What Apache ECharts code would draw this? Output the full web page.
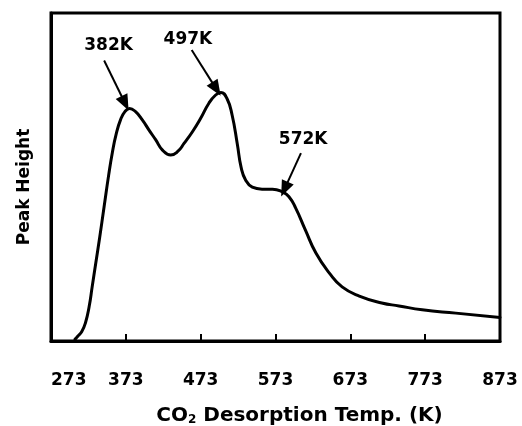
<!DOCTYPE html>
<html>
<head>
<meta charset="utf-8">
<script src="https://cdn.jsdelivr.net/npm/echarts@6/dist/echarts.min.js"></script>
<style>
  html, body { margin: 0; padding: 0; background: #fff; }
  #chart { width: 522px; height: 426px; }
</style>
</head>
<body>
<div id="chart"></div>
<script>
// temperature (K) and peak height (arbitrary units, 0-100)
var temps = [305, 309, 314, 319, 324, 328, 333, 338, 344, 350, 355, 360, 366, 372, 378, 386, 395, 404, 413, 422, 433, 442, 451, 462, 473, 484, 493, 500, 508, 515, 522, 527, 533, 542, 555, 569, 582, 591, 600, 613, 627, 645, 662, 685, 715, 738, 769, 814, 873];
var heights = [0.5, 1.5, 2.8, 5.5, 10.5, 16.5, 24.0, 31.5, 41.0, 50.5, 57.5, 63.0, 67.5, 70.0, 70.9, 69.9, 67.4, 64.3, 61.3, 58.2, 56.7, 57.7, 60.3, 63.8, 67.9, 72.5, 75.0, 75.8, 74.0, 68.9, 60.0, 53.0, 49.1, 46.9, 46.3, 46.3, 45.5, 44.0, 40.5, 33.8, 26.8, 20.7, 16.5, 13.7, 11.6, 10.7, 9.5, 8.5, 7.2];
var xTicks = [273, 373, 473, 573, 673, 773, 873];

// peak annotations: label, label position, arrow start, arrow tip
var peakLabels = ['382K', '497K', '572K'];
var labelPos = [[350, 90], [456, 92], [610, 61.5]];
var arrowFrom = [[344, 85.5], [461, 88.7], [607, 57.3]];
var arrowTo = [[372, 72.5], [494, 76.8], [585, 46.3]];

var chart = echarts.init(document.getElementById('chart'));

var lineData = temps.map(function (t, i) { return [t, heights[i]]; });
var boldFont = 'DejaVu Sans';

chart.setOption({
    animation: false,
    grid: {
        show: true,
        left: 51,
        right: 22,
        top: 13,
        bottom: 85,
        containLabel: false,
        outerBoundsMode: 'none',
        borderColor: '#000',
        borderWidth: 3
    },
    xAxis: {
        type: 'value',
        min: xTicks[0],
        max: xTicks[xTicks.length - 1],
        interval: 100,
        axisLine: { show: true, lineStyle: { color: '#000', width: 3 } },
        axisTick: { show: true, inside: true, length: 7, lineStyle: { color: '#000', width: 2 } },
        splitLine: { show: false },
        axisLabel: {
            margin: 31,
            color: '#000',
            fontFamily: boldFont,
            fontWeight: 'bold',
            fontSize: 17,
            alignMinLabel: 'left'
        },
        name: '{t|CO}{s|2}{t| Desorption Temp. (K)}',
        nameLocation: 'middle',
        nameGap: 65,
        nameTextStyle: {
            padding: [0, 0, 0, 48],
            rich: {
                t: { fontFamily: boldFont, fontWeight: 'bold', fontSize: 20, color: '#000' },
                s: { fontFamily: boldFont, fontWeight: 'bold', fontSize: 12, color: '#000', verticalAlign: 'bottom', padding: [8, 0, 0, 0] }
            }
        }
    },
    yAxis: {
        type: 'value',
        min: 0,
        max: 100,
        axisLine: { show: true, lineStyle: { color: '#000', width: 3 } },
        axisTick: { show: false },
        axisLabel: { show: false },
        splitLine: { show: false },
        name: 'Peak Height',
        nameLocation: 'middle',
        nameGap: 18,
        nameTextStyle: {
            color: '#000',
            fontFamily: boldFont,
            fontWeight: 'bold',
            fontSize: 17,
            padding: [0, 20, 0, 0]
        }
    },
    series: [{
        type: 'line',
        data: lineData,
        smooth: 0.5,
        showSymbol: false,
        lineStyle: { color: '#000', width: 3, join: 'round', cap: 'round' },
        markLine: {
            silent: true,
            symbol: ['none', 'triangle'],
            symbolSize: [13, 16],
            label: { show: false },
            lineStyle: { color: '#000', width: 2, type: 'solid' },
            data: arrowFrom.map(function (p, i) {
                return [{ coord: p }, { coord: arrowTo[i] }];
            })
        },
        markPoint: {
            silent: true,
            symbolSize: 0,
            label: {
                show: true,
                color: '#000',
                fontFamily: boldFont,
                fontWeight: 'bold',
                fontSize: 17,
                formatter: function (p) { return p.name; }
            },
            data: peakLabels.map(function (n, i) {
                return { name: n, coord: labelPos[i] };
            })
        }
    }]
});
</script>
</body>
</html>
